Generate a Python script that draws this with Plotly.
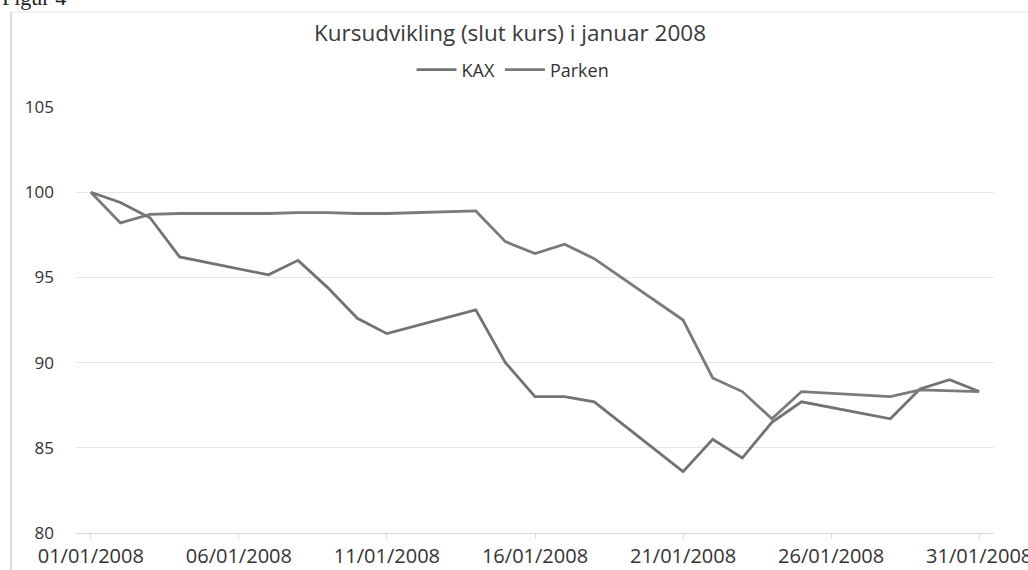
import plotly.graph_objects as go

dates = ["2008-01-01", "2008-01-02", "2008-01-03", "2008-01-04", "2008-01-07",
         "2008-01-08", "2008-01-09", "2008-01-10", "2008-01-11", "2008-01-14",
         "2008-01-15", "2008-01-16", "2008-01-17", "2008-01-18", "2008-01-21",
         "2008-01-22", "2008-01-23", "2008-01-24", "2008-01-25", "2008-01-28",
         "2008-01-29", "2008-01-30", "2008-01-31"]
kax = [100, 99.4, 98.5, 96.2, 95.15, 96.0, 94.4, 92.6, 91.7, 93.1,
       90.0, 88.0, 88.0, 87.7, 83.6, 85.5, 84.4, 86.5, 87.7, 86.7,
       88.45, 89.0, 88.3]
parken = [100, 98.2, 98.7, 98.75, 98.75, 98.8, 98.8, 98.75, 98.75, 98.9,
          97.1, 96.4, 96.95, 96.1, 92.5, 89.1, 88.3, 86.7, 88.3, 88.0,
          88.4, 88.35, 88.3]
tick_dates = ["2008-01-01", "2008-01-06", "2008-01-11", "2008-01-16",
              "2008-01-21", "2008-01-26", "2008-01-31"]
tick_text = ["01/01/2008", "06/01/2008", "11/01/2008", "16/01/2008",
             "21/01/2008", "26/01/2008", "31/01/2008"]
y_ticks = [80, 85, 90, 95, 100, 105]

title = "Kursudvikling (slut kurs) i januar 2008"
line_color = "#727272"
font_family = "Open Sans"

fig = go.Figure()
fig.add_trace(go.Scatter(x=dates, y=kax, mode="lines", name="KAX",
                         line=dict(color=line_color, width=2.8)))
fig.add_trace(go.Scatter(x=dates, y=parken, mode="lines", name="Parken",
                         line=dict(color="#7a7a7a", width=2.8)))

L, R, T, B = 76, 34, 107, 37
W, H = 1028, 570
pw, ph = W - L - R, H - T - B

def px_x(p):
    return (p - L) / pw

def px_y(p):
    return (H - B - p) / ph

fig.update_layout(
    width=W, height=H,
    margin=dict(l=L, r=R, t=T, b=B, autoexpand=False),
    paper_bgcolor="white", plot_bgcolor="white",
    font=dict(family=font_family, color="#333333"),
    title=dict(text=title, x=510 / W, xanchor="center", xref="container",
               y=1 - 33 / H, yanchor="middle", yref="container",
               font=dict(size=22.5, family=font_family, color="#3a3a3a")),
    legend=dict(orientation="h", x=513 / W, xanchor="center", xref="container",
                y=1 - 70 / H, yanchor="middle", yref="container",
                font=dict(size=18, family=font_family, color="#333333"),
                itemwidth=40, tracegroupgap=0, bgcolor="rgba(0,0,0,0)"),
    showlegend=True,
    xaxis=dict(type="date", range=["2007-12-31 12:00", "2008-01-31 12:00"],
               tickvals=tick_dates, ticktext=tick_text, automargin=False,
               ticklabeloverflow="allow",
               showgrid=False, showline=True, linecolor="#d9d9d9", linewidth=1,
               ticks="outside", ticklen=5, tickcolor="#d9d9d9",
               tickfont=dict(size=20, family=font_family, color="#333333"),
               zeroline=False),
    yaxis=dict(range=[80, 105], tickvals=y_ticks, automargin=False,
               showgrid=True, gridcolor="#e6e6e6", gridwidth=1,
               showline=False, zeroline=False, ticks="",
               ticklabelstandoff=21,
               tickfont=dict(size=17, family=font_family, color="#333333")),
    shapes=[
        dict(type="line", xref="paper", yref="paper",
             x0=px_x(11), x1=px_x(11), y0=px_y(12), y1=px_y(570),
             line=dict(color="#cfcfcf", width=1.5)),
        dict(type="line", xref="paper", yref="paper",
             x0=px_x(11), x1=px_x(1028), y0=px_y(12), y1=px_y(12),
             line=dict(color="#e3e3e3", width=1)),
    ],
    annotations=[
        dict(text="Figur 4", xref="paper", yref="paper",
             x=px_x(0), y=px_y(-3), xanchor="left", yanchor="middle",
             showarrow=False,
             font=dict(family="Liberation Serif", size=22, color="#222222")),
    ],
)

fig.write_html("out.html", config={"displayModeBar": False},
               post_script="document.body.style.margin='0px';document.body.style.overflow='hidden';")
